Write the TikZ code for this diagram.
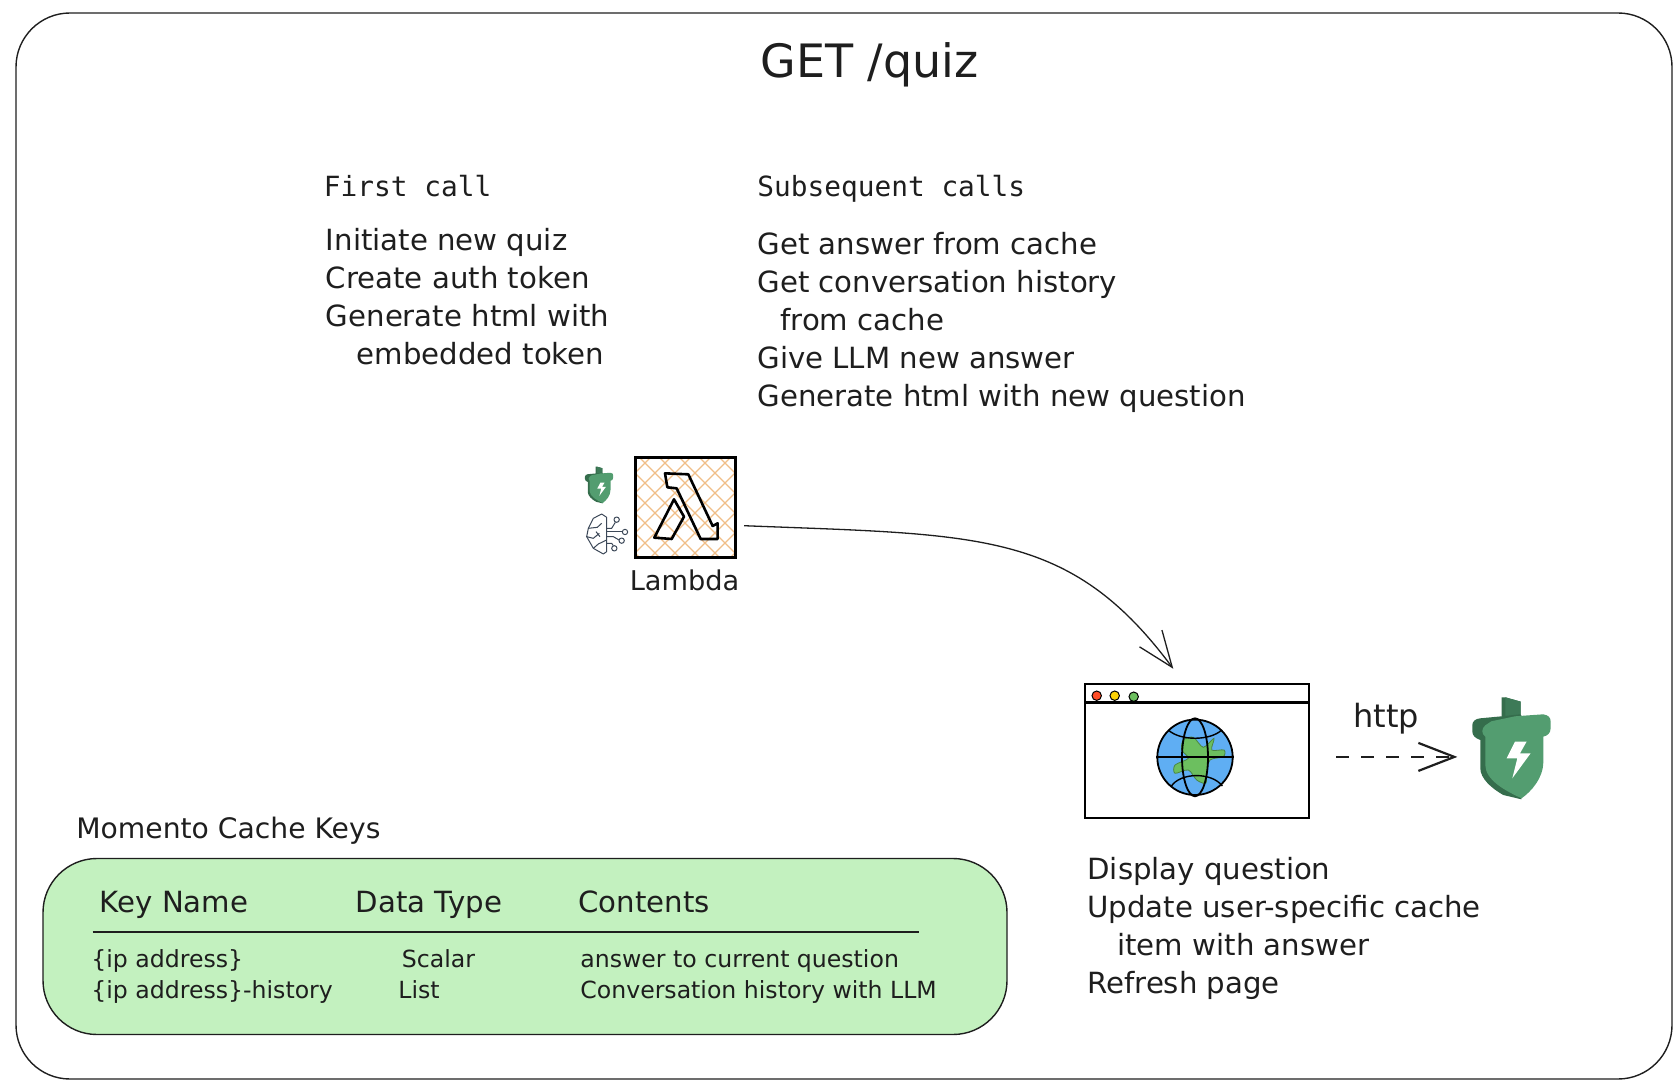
\documentclass[tikz,border=0pt]{standalone}
\usepackage{fontspec}
\usetikzlibrary{arrows.meta}
\newfontfamily\handfont{DejaVu Sans}
\newfontfamily\codefont{DejaVu Sans Mono}
\definecolor{inkblack}{HTML}{1E1E1E}
\definecolor{tablegreen}{HTML}{C3F1BF}
\definecolor{hatchorange}{HTML}{F0BE88}
\definecolor{momentodark}{HTML}{356D4C}
\definecolor{momentostem}{HTML}{3D7A57}
\definecolor{momentolight}{HTML}{539D70}
\definecolor{globeblue}{HTML}{5FAEF3}
\definecolor{landgreen}{HTML}{6CBF5F}
\definecolor{brainslate}{HTML}{3C4858}
\tikzset{
  titletext/.style={font=\handfont\fontsize{23}{28}\selectfont,text=inkblack,inner sep=0pt},
  headtext/.style={font=\codefont\fontsize{13.9}{17}\selectfont,text=inkblack,inner sep=0pt,anchor=base west},
  blocktext/.style={font=\handfont\fontsize{14.6}{19}\selectfont,text=inkblack,inner sep=0pt,anchor=north west,align=left},
  tablehead/.style={font=\handfont\fontsize{14.6}{16}\selectfont,text=inkblack,inner sep=0pt,anchor=base west},
  tablerow/.style={font=\handfont\fontsize{11.8}{14}\selectfont,text=inkblack,inner sep=0pt,anchor=base west},
  hatch/.style={hatchorange,line width=0.6pt},
  barb/.style={-{Straight Barb[length=18pt,width=14pt]}},
  momento/.pic={
    \fill[momentodark] (-9.7,-51)--(-6,-51)--(9.3,-46.7)--(9.3,-28)--(-9.7,-28)--cycle;
    \fill[momentostem] (-6,-51)--(9.3,-46.7)--(9.3,-30)--(-6,-30)--cycle;
    \fill[momentodark] (-39,-23)..controls (-39,-27) and (-36,-29.5)..(-31,-30)--(-9.7,-32)--(9,-34)--(20,-20)
      --(10,51)--(-8,46.7)..controls (-20,40) and (-31,30)..(-31,20)--(-31,-8.3)
      ..controls (-36,-10) and (-39,-13)..(-39,-16.7)--cycle;
    \fill[momentolight] (-26,-23)--(-20,-27)--(3.7,-32)--(32,-34)..controls (37,-33) and (39.3,-31)..(39.3,-27)
      --(39.3,-20)..controls (39.3,-15) and (36,-12.5)..(32,-11.7)--(32,13.3)
      ..controls (32,30) and (20,43)..(10.3,50)..controls (-5,43) and (-26,32)..(-26,16.7)
      --(-26,-11.7)..controls (-30,-14) and (-30,-20)..(-26,-23)--cycle;
    \fill[white] (3.7,-6.7)--(15.3,-6.7)--(8.7,5)--(19.3,5)--(1,30)--(6,10)--(-4.7,10)--cycle;
  }
}
\begin{document}
\begin{tikzpicture}[x=0.5pt,y=-0.5pt]
\useasboundingbox (0,0) rectangle (1679,1090);
\node (frame) [draw=inkblack,line width=0.7pt,rounded corners=27pt,minimum width=828pt,minimum height=533pt] at (844,546) {};
\node (title) [titletext] at (869.5,65) {GET /quiz};

\node (firsthead) [headtext] at (323.5,197) {First call};
\node (subhead) [headtext] at (757,197) {Subsequent calls};
\node (firstblock) [blocktext] at (325.5,228) {Initiate new quiz\\Create auth token\\Generate html with\\\hspace{15.5pt}embedded token};
\node (subblock) [blocktext] at (757,231.5) {Get answer from cache\\Get conversation history\\\hspace{11.5pt}from cache\\Give LLM new answer\\Generate html with new question};

% lambda box
\node (lambdabox) [minimum size=49.5pt,inner sep=0pt] at (685.2,507.2) {};
\begin{scope}
\clip (lambdabox.south west) rectangle (lambdabox.north east);
\draw[hatch] (540,458)--(639,557);
\draw[hatch] (560,458)--(659,557);
\draw[hatch] (580,458)--(679,557);
\draw[hatch] (600,458)--(699,557);
\draw[hatch] (620,458)--(719,557);
\draw[hatch] (640,458)--(739,557);
\draw[hatch] (660,458)--(759,557);
\draw[hatch] (680,458)--(779,557);
\draw[hatch] (700,458)--(799,557);
\draw[hatch] (720,458)--(819,557);
\draw[hatch] (650,458)--(551,557);
\draw[hatch] (670,458)--(571,557);
\draw[hatch] (690,458)--(591,557);
\draw[hatch] (710,458)--(611,557);
\draw[hatch] (730,458)--(631,557);
\draw[hatch] (750,458)--(651,557);
\draw[hatch] (770,458)--(671,557);
\draw[hatch] (790,458)--(691,557);
\draw[hatch] (810,458)--(711,557);
\draw[hatch] (830,458)--(731,557);
\end{scope}
\draw[line width=1.5pt] (lambdabox.south west) rectangle (lambdabox.north east);
\begin{scope}[shift={(560,440)},scale=0.3333,line width=1.3pt,line join=round]
\draw (315,100)--(385,103)--(458,258)--(473,250)--(473,297)--(422,297)--(350,145)--(322,142)--cycle;
\draw (342,178)--(283,293)--(335,297)--(372,230)--cycle;
\end{scope}
\node (lambdalabel) [font=\handfont\fontsize{13.6}{16}\selectfont,text=inkblack,inner sep=0pt,anchor=base] at (684.5,590) {Lambda};

% small icons
\pic[scale=0.36] at (599,485) {momento};
\begin{scope}[shift={(560,440)},scale=0.3333,brainslate,line width=0.5pt,line join=round]
\draw (125,222)--(100,235)--(85,265)--(80,290)--(100,325)--(130,342)--(140,335)--(140,232)--cycle;
\draw (85,265)--(112,262)--(125,250);
\draw (80,290)--(100,295)--(118,280);
\draw (100,325)--(115,312)--(140,300);
\draw (108,275)--(120,290);
\draw (140,265)--(155,265)--(166,247);
\draw (170,239) circle (8);
\draw (140,276)--(187,276);
\draw (195,276) circle (8);
\draw (140,290)--(160,290)--(177,300);
\draw (185,302) circle (8);
\draw (140,310)--(155,310)--(160,317);
\draw (163,325) circle (8);
\end{scope}

% browser
\node (browser) [draw,line width=0.8pt,minimum width=112pt,minimum height=67pt,inner sep=0pt] at (1197.2,751) {};
\draw[line width=1.2pt] (browser.north west |- 0,702.5)--(browser.north east |- 0,702.5);
\draw[line width=0.5pt,fill=red!65!orange!85] (1096.7,695.7) circle (4.7);
\draw[line width=0.5pt,fill=yellow!70!orange] (1114.7,695.7) circle (4.7);
\draw[line width=0.5pt,fill=landgreen] (1133.7,696.7) circle (4.7);
\node (globe) [circle,draw,line width=0.9pt,fill=globeblue,minimum size=37.7pt,inner sep=0pt] at (1195,757.3) {};
\draw[landgreen!70!black,line width=0.4pt,fill=landgreen] plot[smooth cycle,tension=0.5] coordinates {(1183.3,740)(1193.3,737.3)(1203.3,747.3)(1214,738.3)(1211.7,750)(1224,750)(1223.3,756.7)(1210,760)(1206.7,773.3)(1205.7,783.3)(1196.7,780)(1188.3,770)(1175,773.3)(1175,765)(1188.3,758.3)(1181.7,750)};
\draw[line width=0.9pt] (globe.center) ellipse (13 and 39);
\draw[line width=0.9pt] (globe.west)--(globe.east);
\draw[line width=0.7pt] (1168.3,730)..controls (1180,741) and (1210,741)..(1221.7,730);
\draw[line width=0.7pt] (1171,786.7)..controls (1180,772) and (1212,772)..(1222.3,786);

% momento
\node (momentobig) [minimum width=39.5pt,minimum height=50pt,inner sep=0pt] at (1511.3,748.3) {};
\pic at (momentobig) {momento};

% arrows
\draw[barb,line width=0.65pt,inkblack,shorten <=4.5pt,shorten >=9pt] (lambdabox.-20)..controls (980,535) and (1070,530)..(browser.101);
\draw[barb,line width=1.1pt,inkblack,dash pattern=on 6.5pt off 6pt,shorten <=13pt,shorten >=7pt] (browser.-3)--(browser.-3 -| momentobig.west);
\node (httplabel) [font=\handfont\fontsize{16}{20}\selectfont,text=inkblack,inner sep=0pt,anchor=base] at (1386,727) {http};

\node (browserblock) [blocktext] at (1087,857) {Display question\\Update user-specific cache\\\hspace{15pt}item with answer\\Refresh page};

% table
\node (keyshead) [font=\handfont\fontsize{14.1}{17}\selectfont,text=inkblack,inner sep=0pt,anchor=base west] at (76,838.5) {Momento Cache Keys};
\node (keysbox) [draw=inkblack,line width=0.7pt,fill=tablegreen,rounded corners=27pt,minimum width=482pt,minimum height=88pt] at (525,946.5) {};
\node (keyname) [tablehead] at (99.5,912) {Key Name};
\node (datatype) [tablehead] at (355.5,912) {Data Type};
\node (contents) [tablehead] at (578,912) {Contents};
\draw[inkblack,line width=0.7pt] (92.7,932)--(919,932);
\node (rowkey) [tablerow] at (91,967) {\{ip address\}};
\node (rowhistory) [tablerow] at (91,998) {\{ip address\}-history};
\node (rowscalar) [tablerow] at (401.5,967) {Scalar};
\node (rowlist) [tablerow] at (398,998) {List};
\node (rowanswer) [tablerow] at (580,967) {answer to current question};
\node (rowconv) [tablerow] at (580,998) {Conversation history with LLM};
\end{tikzpicture}
\end{document}
